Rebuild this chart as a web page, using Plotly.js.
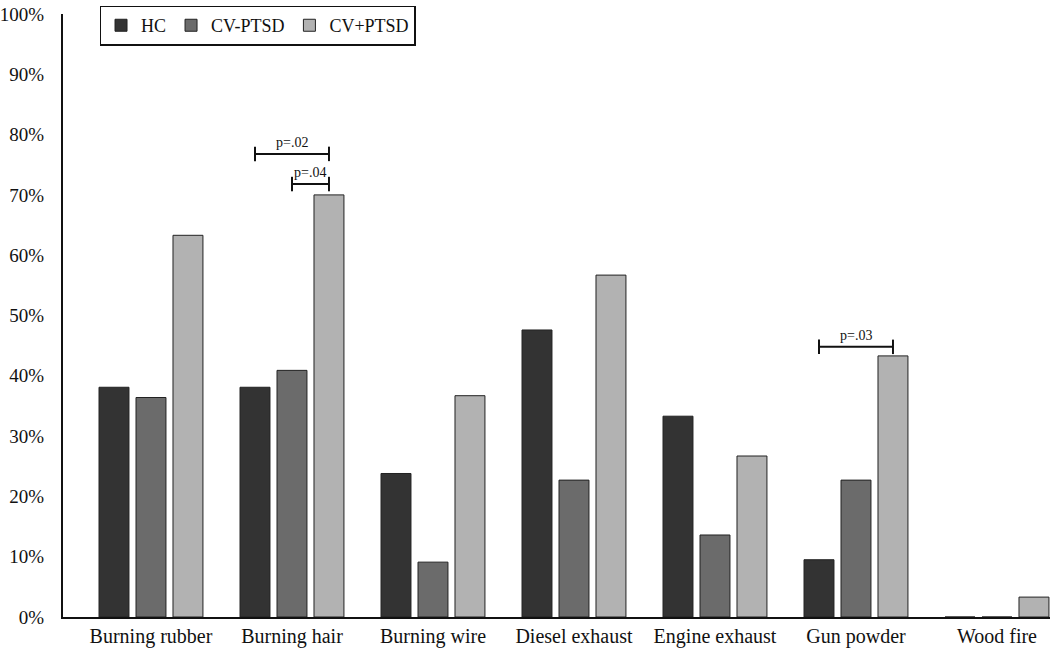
<!DOCTYPE html>
<html>
<head>
<meta charset="utf-8">
<script src="https://cdn.plot.ly/plotly-3.0.1.min.js"></script>
<style>html,body{margin:0;padding:0;background:#fff;}#chart{width:1050px;height:650px;}</style>
</head>
<body>
<div id="chart"></div>
<script>
const categories = ["Burning rubber", "Burning hair", "Burning wire", "Diesel exhaust", "Engine exhaust", "Gun powder", "Wood fire"];
const seriesNames = ["HC", "CV-PTSD", "CV+PTSD"];
const hcValues = [38.1, 38.1, 23.8, 47.6, 33.3, 9.5, 0];
const cvMinusValues = [36.4, 40.9, 9.1, 22.7, 13.6, 22.7, 0];
const cvPlusValues = [63.3, 70.0, 36.7, 56.7, 26.7, 43.3, 3.3];
const colors = ["#333333", "#6b6b6b", "#b2b2b2"];
const tickVals = [0, 10, 20, 30, 40, 50, 60, 70, 80, 90, 100];
const tickText = ["0%", "10%", "20%", "30%", "40%", "50%", "60%", "70%", "80%", "90%", "100%"];

// significance annotations: [category index, from series, to series, y level, label]
const sigCats = [1, 1, 5];
const sigFrom = [0, 1, 0];
const sigTo = [2, 2, 2];
const sigY = [76.8, 71.8, 44.8];
const sigLabels = ["p=.02", "p=.04", "p=.03"];

const FONT = "Liberation Serif";
const bargap = 0.213;
const slot = (1 - bargap) / 3;

const traces = [hcValues, cvMinusValues, cvPlusValues].map((vals, i) => ({
  type: "bar",
  name: seriesNames[i],
  x: categories,
  y: vals,
  marker: {color: colors[i], line: {color: "#222222", width: 1}},
  hoverinfo: "skip"
}));

const shapes = [];
const annotations = [];
const tickH = 1.2;
for (let k = 0; k < sigCats.length; k++) {
  const x0 = sigCats[k] + (sigFrom[k] - 1) * slot;
  const x1 = sigCats[k] + (sigTo[k] - 1) * slot;
  const y = sigY[k];
  const ln = {color: "#111", width: 2};
  shapes.push({type: "line", xref: "x", yref: "y", x0: x0, x1: x1, y0: y, y1: y, line: ln});
  shapes.push({type: "line", xref: "x", yref: "y", x0: x0, x1: x0, y0: y - tickH, y1: y + tickH, line: ln});
  shapes.push({type: "line", xref: "x", yref: "y", x0: x1, x1: x1, y0: y - tickH, y1: y + tickH, line: ln});
  annotations.push({xref: "x", yref: "y", x: (x0 + x1) / 2, y: y, yanchor: "bottom", yshift: 2,
    text: sigLabels[k], showarrow: false, font: {family: FONT, size: 14, color: "#111"}});
}

const layout = {
  width: 1050, height: 650,
  margin: {l: 63, r: 0, t: 14, b: 33},
  paper_bgcolor: "#fff", plot_bgcolor: "#fff",
  barmode: "group",
  bargap: bargap,
  bargroupgap: 0.19,
  font: {family: FONT, size: 20, color: "#111"},
  showlegend: true,
  legend: {
    orientation: "h", x: 0.037, y: 1.014, xanchor: "left", yanchor: "top",
    bordercolor: "#111", borderwidth: 1.5, bgcolor: "#fff",
    font: {family: FONT, size: 18, color: "#111"},
    traceorder: "normal", itemwidth: 30
  },
  xaxis: {
    type: "category",
    range: [-0.624, 6.376],
    showline: true, linecolor: "#111", linewidth: 2,
    ticks: "", showgrid: false, zeroline: false,
    tickfont: {family: FONT, size: 20, color: "#111"}
  },
  yaxis: {
    range: [0, 100],
    tickmode: "array",
    tickvals: tickVals,
    ticktext: tickText,
    ticklabeloverflow: "allow",
    showline: true, linecolor: "#111", linewidth: 2,
    ticks: "", showgrid: false, zeroline: false,
    ticklabelstandoff: 13,
    tickfont: {family: FONT, size: 19, color: "#111"}
  },
  shapes: shapes,
  annotations: annotations
};

Plotly.newPlot("chart", traces, layout, {displayModeBar: false, staticPlot: true});
</script>
</body>
</html>
